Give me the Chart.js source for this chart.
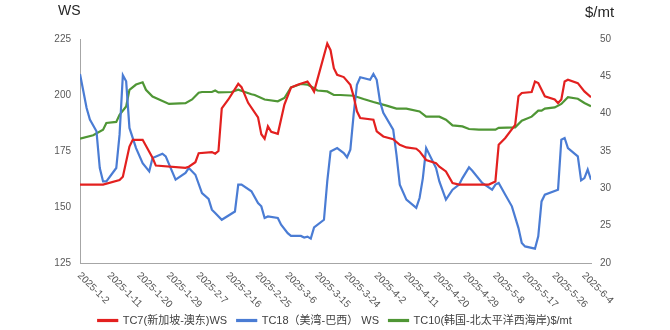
<!DOCTYPE html>
<html>
<head>
<meta charset="utf-8">
<script src="https://cdn.jsdelivr.net/npm/chart.js@4.4.1/dist/chart.umd.min.js"></script>
<style>
  html, body { margin: 0; padding: 0; background: #fff; }
</style>
</head>
<body>
<canvas id="myChart" width="670" height="330"></canvas>
<script>
// x is counted in days from 2025-1-2, a label every 9 days
const dateLabels = ['2025-1-2', '2025-1-11', '2025-1-20', '2025-1-29', '2025-2-7', '2025-2-16',
    '2025-2-25', '2025-3-6', '2025-3-15', '2025-3-24', '2025-4-2', '2025-4-11', '2025-4-20',
    '2025-4-29', '2025-5-8', '2025-5-17', '2025-5-26', '2025-6-4'];
const labelStep = 9;
const lastDay = 155;

const wsTicks = [125, 150, 175, 200, 225];
const usdTicks = [20, 25, 30, 35, 40, 45, 50];

// TC7 Singapore - East Australia, WS
const tc7Days = [0, 7, 12, 13, 15, 16, 19, 22, 23, 32, 33, 35, 36, 40, 41, 42, 43, 45, 48, 49,
    51, 54, 55, 56, 57, 58, 60, 62, 64, 66, 69, 70, 71, 75, 76, 77, 78, 80, 82, 83,
    84, 85, 89, 90, 92, 95, 97, 99, 102, 103, 105, 108, 109, 111, 113, 115, 124, 126, 127, 129,
    132, 133, 134, 137, 138, 139, 141, 144, 145, 146, 147, 148, 151, 153, 155];
const tc7Values = [160, 160, 162, 163.5, 177, 180, 180, 172, 168.5, 167.5, 168, 170, 174, 174.5, 173.8, 175, 194, 198, 205, 203.5,
    196.5, 190, 182.5, 180.5, 186, 183.6, 182.7, 195.7, 203.3, 204.6, 206, 204, 201.5, 223, 220, 212, 209, 208, 204.6, 199.4,
    192.7, 189.7, 189, 183.8, 181.5, 180.3, 177.8, 176.6, 176, 174.8, 171, 169.6, 168, 165.9, 160.7, 160, 160, 161.4, 177.8, 180.8,
    186.7, 199.4, 200.9, 201.3, 206, 205.3, 199.4, 198, 196.4, 198, 206, 206.8, 205.3, 201.6, 199];

// TC18 US Gulf - Brazil, WS
const tc18Days = [0, 2, 3, 5, 6, 7, 8, 11, 12, 13, 14, 15, 17, 19, 21, 22, 25, 26, 29, 32,
    33, 35, 37, 39, 40, 41, 43, 47, 48, 49, 52, 54, 55, 56, 57, 60, 61, 63, 64, 67,
    68, 69, 70, 71, 74, 75, 76, 78, 80, 81, 82, 83, 84, 85, 88, 89, 90, 91, 92, 95,
    96, 97, 99, 102, 103, 104, 105, 108, 109, 111, 113, 115, 116, 118, 119, 122, 125, 126, 127, 129,
    131, 133, 134, 135, 138, 139, 140, 141, 145, 146, 147, 148, 151, 152, 153, 154, 155];
const tc18Values = [209.4, 194.2, 189, 183.8, 167.4, 161.4, 161.4, 167.4, 182.3, 208.8, 206.1, 185.3, 176.3, 169.6, 165.9, 171.9, 173.8, 172.6, 162.2, 165.2,
    167.4, 164.4, 156.2, 153.6, 148.8, 147.3, 144.3, 148, 160, 160, 157, 151.8, 150.3, 145.1, 145.8, 145.1, 142.1, 138.3, 137.1, 137.1,
    136.4, 136.8, 135.9, 140.9, 144.3, 161.4, 174.8, 176.3, 174.1, 172.2, 175.6, 191.2, 204.6, 207.9, 206.8, 209.4, 206.8, 197.1, 192, 184.5,
    173.3, 160, 153.3, 149.6, 154, 162.9, 176.3, 167.4, 161.4, 153.3, 157.7, 160, 162.9, 167.7, 166.2, 160.7, 157.7, 160, 160.7, 155.5,
    150.3, 140.6, 133.9, 132.4, 131.4, 136.9, 152.5, 155.5, 157.7, 180, 180.8, 176.3, 172.6, 161.9, 162.9, 166.7, 162.2];

// TC10 Korea - North Pacific west coast, $/mt
const tc10Days = [0, 4, 7, 8, 11, 12, 14, 15, 17, 19, 20, 22, 24, 27, 32, 34, 36, 37, 40, 41,
    42, 46, 48, 50, 52, 53, 56, 60, 62, 64, 67, 69, 71, 72, 75, 77, 79, 83, 86, 89,
    93, 96, 99, 103, 105, 109, 111, 113, 116, 118, 121, 126, 127, 132, 134, 137, 138, 139, 140, 141,
    144, 146, 148, 151, 153, 155];
const tc10Values = [36.65, 37.1, 37.85, 38.75, 38.9, 39.85, 40.97, 43.2, 43.9, 44.2, 43.2, 42.3, 41.9, 41.3, 41.4, 41.9, 42.8, 42.9, 42.9, 43.1,
    42.85, 42.9, 43.2, 42.9, 42.6, 42.5, 41.9, 41.65, 42.1, 43.5, 43.97, 43.9, 43.4, 43.1, 42.98, 42.5, 42.5, 42.4, 41.96, 41.56,
    41.07, 40.67, 40.67, 40.3, 39.6, 39.6, 39.2, 38.43, 38.3, 37.95, 37.85, 37.85, 38.1, 38.17, 39.06, 39.6, 40, 40.4, 40.4, 40.67,
    40.84, 41.3, 42.2, 42, 41.43, 41];

const labelFont = '"Liberation Sans", Arial, "Noto Sans CJK SC", sans-serif';

function toPoints(days, values) {
    return days.map((d, i) => ({ x: d, y: values[i] }));
}

function lineSet(label, days, values, color, axis) {
    return {
        label: label,
        data: toPoints(days, values),
        yAxisID: axis,
        borderColor: color,
        backgroundColor: color,
        borderWidth: 2.2,
        pointRadius: 0,
        tension: 0
    };
}

// rotated date labels and the two unit captions
const extraText = {
    id: 'extraText',
    afterDraw(chart) {
        const { ctx, chartArea } = chart;
        const x = chart.scales.x;
        ctx.save();
        ctx.fillStyle = '#505050';
        ctx.font = '10px ' + labelFont;
        ctx.textAlign = 'left';
        ctx.textBaseline = 'middle';
        dateLabels.forEach((text, i) => {
            const px = x.getPixelForValue(i * labelStep);
            ctx.save();
            ctx.translate(px - 1, chartArea.bottom + 11);
            ctx.rotate(Math.PI / 4);
            ctx.fillText(text, 0, 0);
            ctx.restore();
        });

        ctx.fillStyle = '#262626';
        ctx.font = '14px ' + labelFont;
        ctx.fillText('WS', chartArea.left - 22, 11);
        ctx.font = '15px ' + labelFont;
        ctx.fillText('$/mt', chartArea.right - 6, 13);
        ctx.restore();
    }
};

const ctx = document.getElementById('myChart').getContext('2d');

new Chart(ctx, {
    type: 'line',
    data: {
        datasets: [
            lineSet('TC7(新加坡-澳东)WS', tc7Days, tc7Values, '#e3201f', 'y'),
            lineSet('TC18（美湾-巴西） WS', tc18Days, tc18Values, '#4a7cd4', 'y'),
            lineSet('TC10(韩国-北太平洋西海岸)$/mt', tc10Days, tc10Values, '#4f9635', 'y1')
        ]
    },
    options: {
        responsive: false,
        animation: false,
        // negative bottom padding pushes the legend row closer to the edge
        layout: { padding: { top: 39, left: 0, right: 0, bottom: -6 } },
        plugins: {
            legend: {
                position: 'bottom',
                labels: {
                    boxWidth: 19,
                    boxHeight: 1,
                    padding: 10,
                    color: '#404040',
                    font: { size: 11, family: labelFont }
                }
            },
            tooltip: { enabled: false }
        },
        scales: {
            x: {
                type: 'linear',
                min: 0,
                max: lastDay,
                ticks: { display: false },
                grid: { display: false, drawTicks: false },
                border: { display: true, color: '#a6a6a6', width: 1 },
                afterFit: (scale) => { scale.height = 42; }
            },
            y: {
                position: 'left',
                min: wsTicks[0],
                max: wsTicks[wsTicks.length - 1],
                afterBuildTicks: (scale) => { scale.ticks = wsTicks.map(v => ({ value: v })); },
                ticks: { color: '#595959', padding: 9, font: { size: 10, family: labelFont } },
                grid: { display: false, drawTicks: false },
                border: { display: true, color: '#a6a6a6', width: 1 },
                afterFit: (scale) => { scale.width = 80; }
            },
            y1: {
                position: 'right',
                min: usdTicks[0],
                max: usdTicks[usdTicks.length - 1],
                afterBuildTicks: (scale) => { scale.ticks = usdTicks.map(v => ({ value: v })); },
                ticks: { color: '#595959', padding: 9, font: { size: 10, family: labelFont } },
                grid: { display: false, drawTicks: false },
                border: { display: false },
                afterFit: (scale) => { scale.width = 79; }
            }
        }
    },
    plugins: [extraText]
});
</script>
</body>
</html>
